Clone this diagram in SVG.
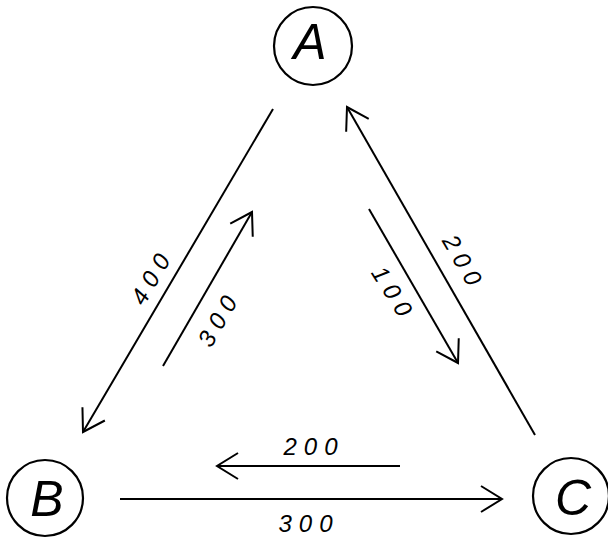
<svg xmlns="http://www.w3.org/2000/svg" width="608" height="540" viewBox="0 0 608 540">
<style>
.node circle{fill:none;stroke:#000;stroke-width:2.2}
.node text{font-family:"Liberation Sans",Arial,sans-serif;font-style:italic;font-size:50px;text-anchor:middle;dominant-baseline:central;fill:#000}
.edge line{stroke:#000;stroke-width:2;fill:none}
.lbl{font-family:"Liberation Sans",Arial,sans-serif;font-style:italic;font-size:24px;letter-spacing:7px;text-anchor:middle;dominant-baseline:central;fill:#000}
</style>
<defs>
<marker id="arr" viewBox="-24 -16 28 32" refX="0" refY="0" markerWidth="28" markerHeight="32" markerUnits="userSpaceOnUse" orient="auto">
<path d="M-21,-13 L0,0 L-21,13" fill="none" stroke="#000" stroke-width="2"/>
</marker>
</defs>
<g id="A" class="node"><circle cx="313" cy="46" r="39"/><text x="310" y="42">A</text></g>
<g id="B" class="node"><circle cx="45" cy="498" r="38"/><text x="47" y="499">B</text></g>
<g id="C" class="node"><circle cx="571" cy="496" r="38"/><text x="573" y="498">C</text></g>
<g id="connectors" class="edge">
<line x1="273" y1="109" x2="83" y2="432" marker-end="url(#arr)"/>
<line x1="163" y1="366" x2="252" y2="212" marker-end="url(#arr)"/>
<line x1="535" y1="435" x2="347" y2="107" marker-end="url(#arr)"/>
<line x1="369" y1="209" x2="458" y2="363" marker-end="url(#arr)"/>
<line x1="400" y1="466" x2="217" y2="466" marker-end="url(#arr)"/>
<line x1="120" y1="499" x2="502" y2="499" marker-end="url(#arr)"/>
</g>
<g id="labels">
<text class="lbl" transform="translate(152,276) rotate(-60)">400</text>
<text class="lbl" transform="translate(219,318) rotate(-60)">300</text>
<text class="lbl" transform="translate(464,263) rotate(60)">200</text>
<text class="lbl" transform="translate(394,294) rotate(58)">100</text>
<text class="lbl" x="314" y="446">200</text>
<text class="lbl" x="309" y="523">300</text>
</g>
</svg>
